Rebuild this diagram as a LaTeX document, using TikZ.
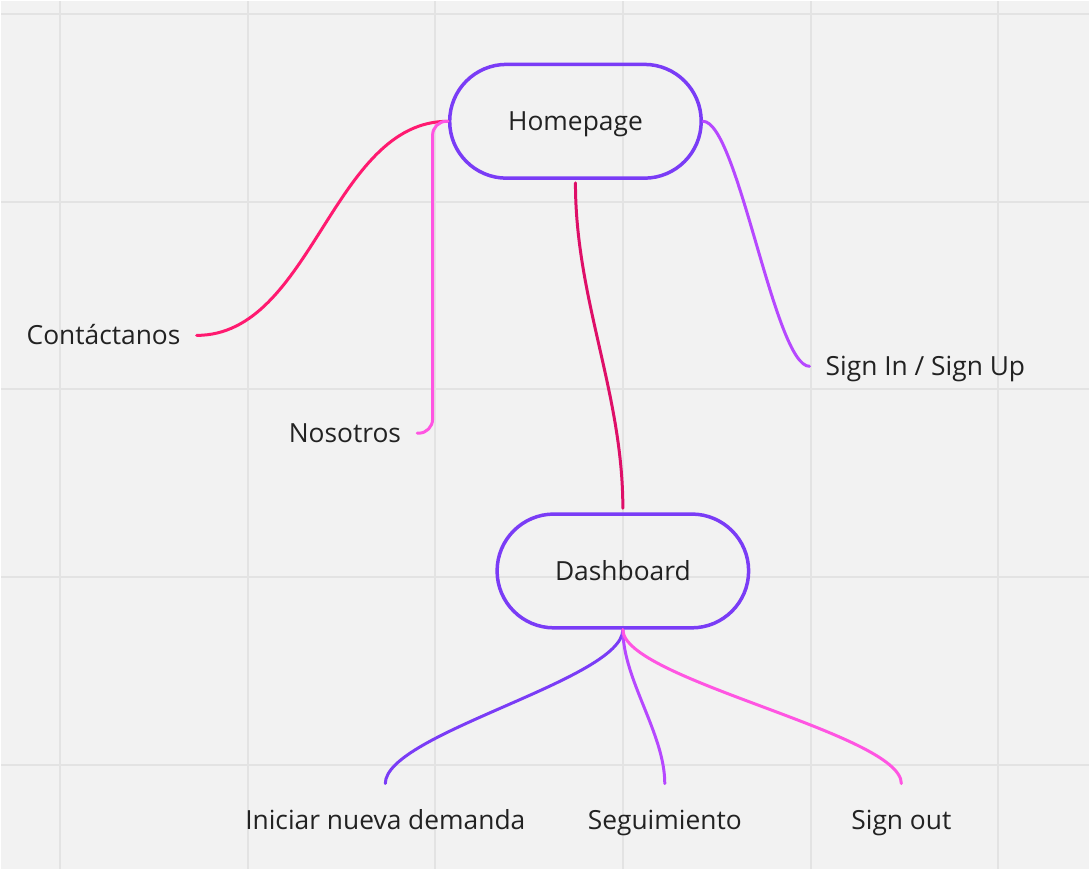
\documentclass[tikz,border=0pt]{standalone}
\usepackage{fontspec}
\setmainfont{Open Sans}
\usetikzlibrary{calc}
\definecolor{canvas}{HTML}{F2F2F2}
\definecolor{gridline}{HTML}{E3E3E3}
\definecolor{violetline}{HTML}{7A3CF6}
\definecolor{rosered}{HTML}{FF1A70}
\definecolor{candy}{HTML}{FF55E2}
\definecolor{crimson}{HTML}{DE0F68}
\definecolor{lilac}{HTML}{B648FF}
\definecolor{inktext}{HTML}{222222}

\begin{document}
\begin{tikzpicture}[x=1pt, y=-1pt,
    topic/.style={draw=violetline, line width=3.5pt, rounded corners=57pt,
        minimum width=252pt, minimum height=114pt, text=inktext,
        text height=19pt, text depth=0pt,
        font=\fontsize{26.4}{30}\selectfont},
    leaf/.style={inner xsep=16pt, inner ysep=27pt, text height=19pt, text depth=0pt,
        text=inktext, font=\fontsize{26.4}{30}\selectfont},
    branch/.style={line width=3pt, line cap=round}]
    \fill[canvas] (0,0) rectangle (1090,870);
    \foreach \x in {59,247,...,999} {
        \draw[gridline, line width=2pt] (\x,0) -- (\x,870);
    }
    \foreach \y in {13,201,...,765} {
        \draw[gridline, line width=2pt] (0,\y) -- (1090,\y);
    }
    \useasboundingbox (0,0) rectangle (1090,870);

    \node[topic] (home) at (575.5,120.5) {Homepage};
    \node[topic] (dash) at (623,571) {Dashboard};

    \node[leaf, anchor=east] (contact) at (196,335) {Contáctanos};
    \node[leaf, anchor=east] (about) at (417,433) {Nosotros};
    \node[leaf, anchor=west] (signin) at (810,366) {Sign In / Sign Up};
    \node[leaf, anchor=north] (newcase) at (385,784) {Iniciar nueva demanda};
    \node[leaf, anchor=north] (track) at (665,784) {Seguimiento};
    \node[leaf, anchor=north] (signout) at (902,784) {Sign out};

    \draw[branch, rosered] (home.west) .. controls +(-116,0) and +(116,0) .. (contact.east);
    \draw[branch, candy, rounded corners=14pt] (home.west) -| ($(home.west)!0.5!(about.east)$) |- (about.east);
    \draw[branch, crimson, shorten <=3pt, shorten >=4pt] (home.south) .. controls +(0,120) and +(0,-120) .. (dash.north);
    \draw[branch, lilac] (home.east) .. controls +(35,0) and +(-35,0) .. (signin.west);

    \draw[branch, violetline] (dash.south) .. controls +(0,50) and +(0,-50) .. (newcase.north);
    \draw[branch, lilac] (dash.south) .. controls +(0,50) and +(0,-50) .. (track.north);
    \draw[branch, candy] (dash.south) .. controls +(0,50) and +(0,-50) .. (signout.north);
\end{tikzpicture}
\end{document}
